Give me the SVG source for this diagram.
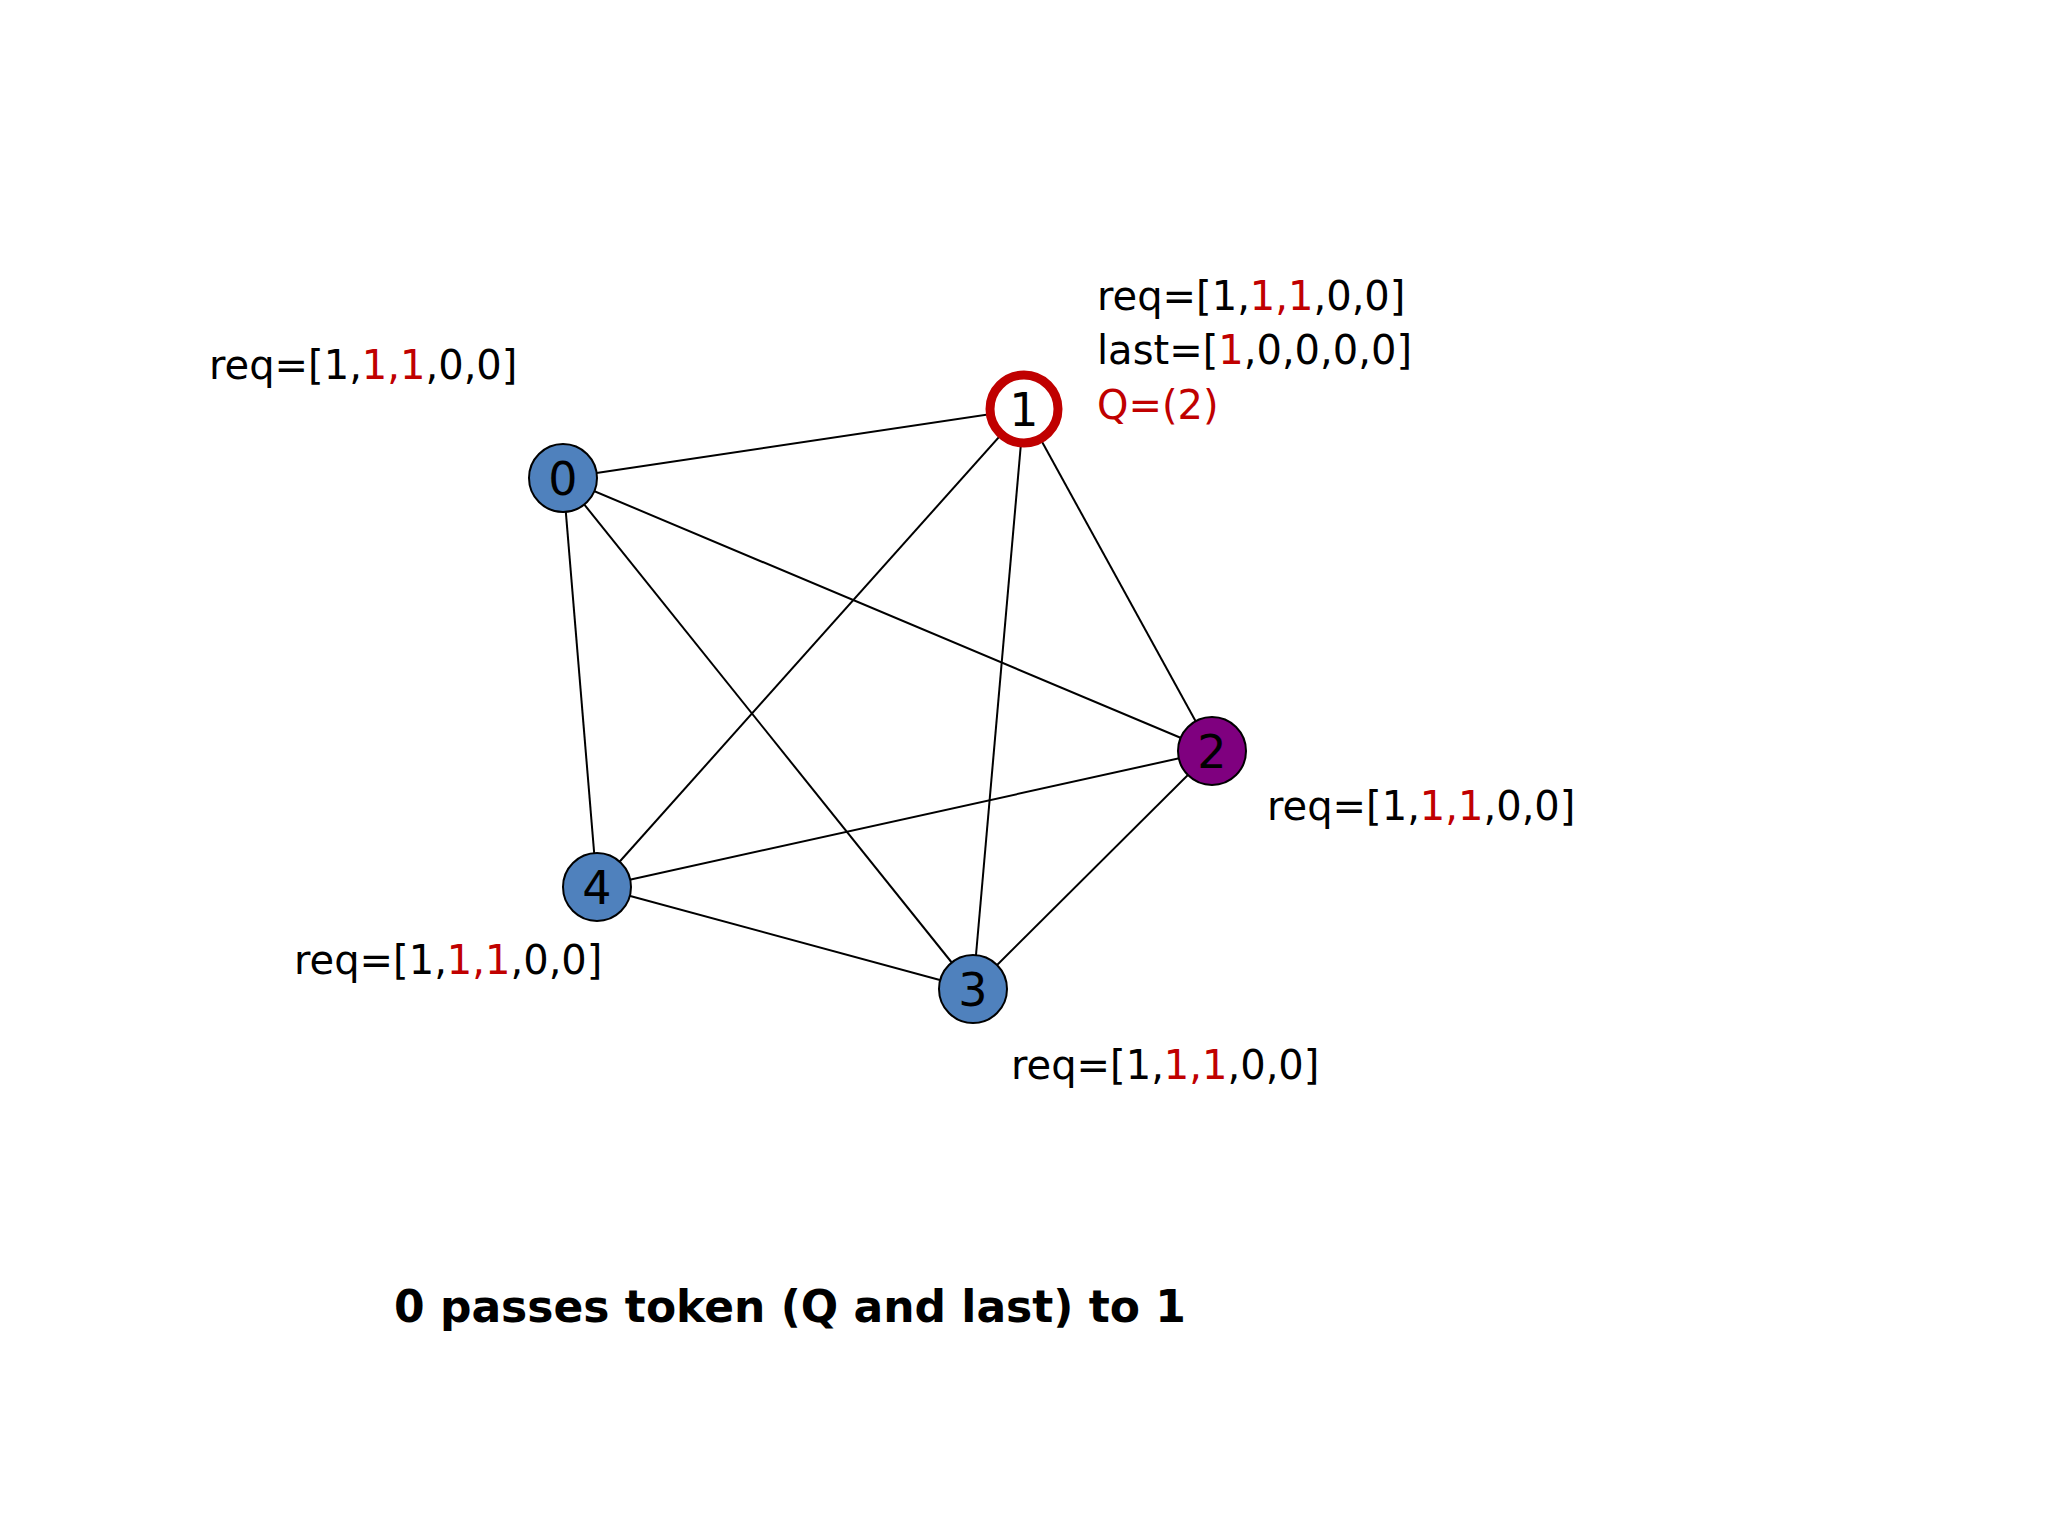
<svg xmlns="http://www.w3.org/2000/svg" width="2048" height="1536" viewBox="0 0 2048 1536">
<style>
.e{stroke:#000;stroke-width:2}
.n{stroke:#000;stroke-width:2}
.t{font-family:"DejaVu Sans",sans-serif;font-size:40px;fill:#000}
.r{fill:#c00000}
.num{font-family:"DejaVu Sans",sans-serif;font-size:46px;text-anchor:middle;fill:#000}
</style>
<rect width="2048" height="1536" fill="#fff"/>
<g id="edges">
<line class="e" x1="563" y1="478" x2="1024" y2="409"/>
<line class="e" x1="563" y1="478" x2="1212" y2="751"/>
<line class="e" x1="563" y1="478" x2="973" y2="989"/>
<line class="e" x1="563" y1="478" x2="597" y2="887"/>
<line class="e" x1="1024" y1="409" x2="1212" y2="751"/>
<line class="e" x1="1024" y1="409" x2="973" y2="989"/>
<line class="e" x1="1024" y1="409" x2="597" y2="887"/>
<line class="e" x1="1212" y1="751" x2="973" y2="989"/>
<line class="e" x1="1212" y1="751" x2="597" y2="887"/>
<line class="e" x1="973" y1="989" x2="597" y2="887"/>
</g>
<g id="node0"><circle class="n" cx="563" cy="478" r="34" fill="#4f81bd"/><text class="num" x="563" y="495">0</text></g>
<g id="node1"><circle cx="1024" cy="409" r="34" fill="#fff" stroke="#c00000" stroke-width="9"/><text class="num" x="1024" y="426">1</text></g>
<g id="node2"><circle class="n" cx="1212" cy="751" r="34" fill="#7f007f"/><text class="num" x="1212" y="768">2</text></g>
<g id="node3"><circle class="n" cx="973" cy="989" r="34" fill="#4f81bd"/><text class="num" x="973" y="1006">3</text></g>
<g id="node4"><circle class="n" cx="597" cy="887" r="34" fill="#4f81bd"/><text class="num" x="597" y="904">4</text></g>
<g id="labels">
<text class="t" x="209" y="379">req=[1,<tspan class="r">1,1</tspan>,0,0]</text>
<text class="t" x="1097" y="310">req=[1,<tspan class="r">1,1</tspan>,0,0]</text>
<text class="t" x="1097" y="364">last=[<tspan class="r">1</tspan>,0,0,0,0]</text>
<text class="t r" x="1097" y="419">Q=(2)</text>
<text class="t" x="1267" y="820">req=[1,<tspan class="r">1,1</tspan>,0,0]</text>
<text class="t" x="294" y="974">req=[1,<tspan class="r">1,1</tspan>,0,0]</text>
<text class="t" x="1011" y="1079">req=[1,<tspan class="r">1,1</tspan>,0,0]</text>
<text x="394" y="1322" font-family="DejaVu Sans,sans-serif" font-size="44" font-weight="bold">0 passes token (Q and last) to 1</text>
</g>
</svg>
